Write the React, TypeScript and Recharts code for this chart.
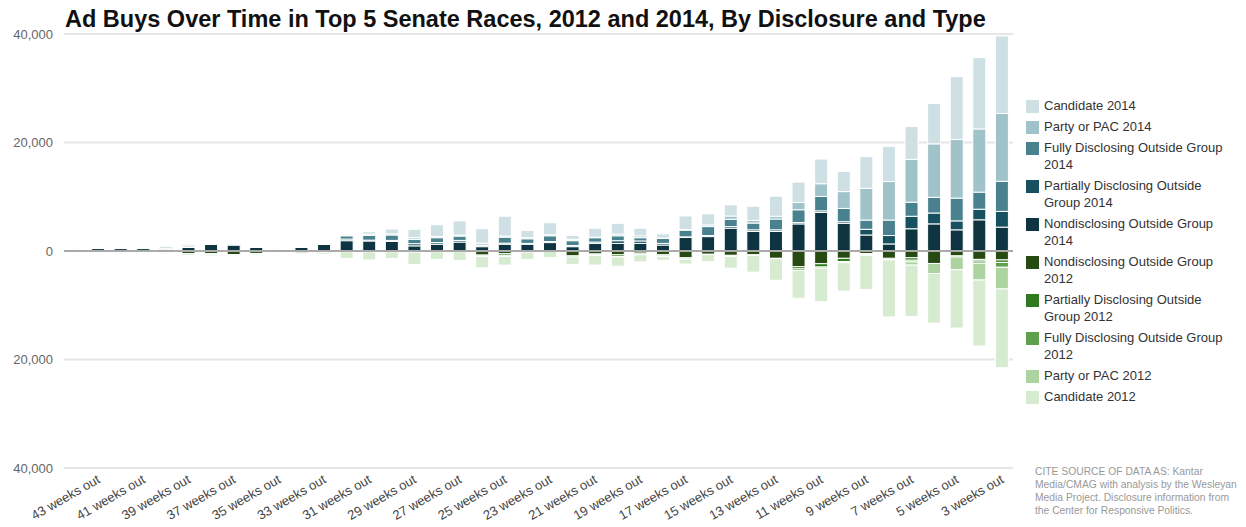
import React from 'react';
import { BarChart, Bar, XAxis, YAxis, CartesianGrid, ReferenceLine } from 'recharts';

const weekLabels = [
  '44 weeks out', '43 weeks out', '42 weeks out', '41 weeks out', '40 weeks out', '39 weeks out',
  '38 weeks out', '37 weeks out', '36 weeks out', '35 weeks out', '34 weeks out', '33 weeks out',
  '32 weeks out', '31 weeks out', '30 weeks out', '29 weeks out', '28 weeks out', '27 weeks out',
  '26 weeks out', '25 weeks out', '24 weeks out', '23 weeks out', '22 weeks out', '21 weeks out',
  '20 weeks out', '19 weeks out', '18 weeks out', '17 weeks out', '16 weeks out', '15 weeks out',
  '14 weeks out', '13 weeks out', '12 weeks out', '11 weeks out', '10 weeks out', '9 weeks out',
  '8 weeks out', '7 weeks out', '6 weeks out', '5 weeks out', '4 weeks out', '3 weeks out',
];

// 2014 (plotted above zero)
const nondisclosing2014 = [200, 450, 450, 450, 300, 650, 1200, 1100, 650, 150, 650, 1200, 1900, 1850, 1750, 950, 1250, 1650, 800, 1250, 1250, 1550, 800, 1400, 1400, 1400, 1100, 2500, 2650, 4200, 3600, 3600, 5000, 7100, 5100, 2950, 1300, 4100, 5000, 3900, 5750, 4400];
const partially2014 = [100, 50, 50, 50, 150, 100, 100, 50, 50, 50, 50, 50, 300, 150, 200, 400, 300, 300, 200, 200, 150, 200, 200, 250, 500, 450, 300, 100, 200, 300, 300, 300, 250, 300, 300, 1050, 1550, 2300, 2000, 1650, 1950, 2900];
const fully2014 = [0, 0, 0, 0, 300, 200, 0, 0, 0, 0, 0, 0, 600, 900, 1000, 800, 900, 800, 300, 1100, 850, 1050, 900, 800, 900, 600, 900, 1250, 1650, 1350, 1250, 2000, 2350, 2650, 2450, 1700, 2850, 2600, 2900, 4200, 3150, 5550];
const partyPac2014 = [0, 0, 0, 0, 50, 0, 0, 0, 0, 0, 0, 0, 100, 200, 200, 300, 200, 200, 150, 200, 200, 200, 250, 100, 300, 350, 100, 100, 300, 600, 500, 500, 1350, 2350, 3100, 5850, 7100, 7900, 9850, 10800, 11650, 12500];
const candidate2014 = [0, 0, 0, 0, 200, 300, 0, 0, 0, 0, 0, 100, 200, 450, 900, 1550, 2200, 2600, 2650, 3650, 1350, 2200, 700, 1650, 2000, 1400, 750, 2500, 2050, 2050, 2600, 3700, 3750, 4550, 3700, 5850, 6500, 6050, 7450, 11600, 13150, 14300];

// 2012 (plotted below zero)
const nondisclosing2012 = [0, 0, 0, 0, 0, -500, -500, -650, -450, -50, -350, -300, -150, -150, -150, -200, -150, -150, -750, -500, -200, -100, -900, -550, -700, -400, -700, -1250, -600, -800, -700, -1350, -2900, -2350, -1350, -500, -1350, -1250, -2300, -900, -1550, -1650];
const partially2012 = [0, 0, 0, 0, 0, 0, -100, 0, 0, 0, 0, 0, 0, 0, 0, 0, 0, 0, -150, -300, 0, 0, -200, -150, -300, -200, -200, -200, -100, -150, -100, -100, -400, -600, -600, -100, -200, -450, 0, -200, -300, -450];
const fully2012 = [0, 0, 0, 0, 0, 0, 0, 0, 0, 0, 0, 0, 0, 0, 0, 0, 0, 0, -100, -200, 0, 0, 0, -100, -100, -100, -150, -100, 0, -50, 0, 0, -300, -200, -200, -100, -100, -300, 0, 0, -400, -900];
const partyPac2012 = [0, 0, 0, 0, 0, 0, 0, 0, 0, 0, 0, 0, 0, 0, 0, 0, 0, 0, 0, 0, 0, 0, 0, 0, 0, 0, 0, 0, 0, 0, 0, 0, 0, 0, 0, -100, 0, -600, -1850, -2350, -3100, -4000];
const candidate2012 = [0, 0, 0, 0, 0, -300, -300, -100, -50, 0, -200, -350, -1200, -1500, -1200, -2300, -1400, -1600, -2100, -1600, -1350, -1100, -1400, -1800, -1700, -1300, -650, -850, -1250, -2150, -3100, -3950, -5100, -6200, -5250, -6300, -10500, -9500, -9150, -10750, -12150, -14500];

const yTicks = [-40000, -20000, 0, 20000, 40000];

const titleText = 'Ad Buys Over Time in Top 5 Senate Races, 2012 and 2014, By Disclosure and Type';
const sourceText = 'CITE SOURCE OF DATA AS: Kantar Media/CMAG with analysis by the Wesleyan Media Project. Disclosure information from the Center for Responsive Politics.';

// stacking order (bottom/near-zero first)
const series = [
  { key: 'nd14', name: 'Nondisclosing Outside Group 2014', color: '#0d3440', values: nondisclosing2014 },
  { key: 'pd14', name: 'Partially Disclosing Outside Group 2014', color: '#17505f', values: partially2014 },
  { key: 'fd14', name: 'Fully Disclosing Outside Group 2014', color: '#4a818f', values: fully2014 },
  { key: 'pp14', name: 'Party or PAC 2014', color: '#9fc3c8', values: partyPac2014 },
  { key: 'c14', name: 'Candidate 2014', color: '#cfe0e5', values: candidate2014 },
  { key: 'nd12', name: 'Nondisclosing Outside Group 2012', color: '#264a12', values: nondisclosing2012 },
  { key: 'pd12', name: 'Partially Disclosing Outside Group 2012', color: '#2f7a1e', values: partially2012 },
  { key: 'fd12', name: 'Fully Disclosing Outside Group 2012', color: '#5ea04c', values: fully2012 },
  { key: 'pp12', name: 'Party or PAC 2012', color: '#add4a0', values: partyPac2012 },
  { key: 'c12', name: 'Candidate 2012', color: '#d6ebd0', values: candidate2012 },
];

const legendOrder = ['c14', 'pp14', 'fd14', 'pd14', 'nd14', 'nd12', 'pd12', 'fd12', 'pp12', 'c12'];

const data = weekLabels.map((week, i) => {
  const row: Record<string, any> = { week };
  series.forEach((s) => { row[s.key] = s.values[i]; });
  return row;
});

const FONT = '"Liberation Sans", Arial, Helvetica, sans-serif';

const WeekTick = (props: any) => {
  const { x, y, payload } = props;
  const i = props.index ?? payload?.index ?? 0;
  if (i % 2 === 0) return <g />;
  const tx = x + 3;
  const ty = y + 14;
  return (
    <text x={tx} y={ty} textAnchor="end" transform={`rotate(-30, ${tx}, ${ty})`} fill="#444" fontSize={13} fontFamily={FONT}>
      {payload.value}
    </text>
  );
};

const LegendBlock = () => (
  <div style={{ position: 'absolute', left: 1026, top: 97, width: 215, fontFamily: FONT, fontSize: 13, color: '#333' }}>
    {legendOrder.map((k) => {
      const s = series.find((x) => x.key === k)!;
      return (
        <div key={k} style={{ display: 'flex', alignItems: 'flex-start', marginBottom: 4 }}>
          <div style={{ width: 13, height: 13, background: s.color, marginTop: 3, marginRight: 5, flex: 'none' }} />
          <div style={{ width: 190, lineHeight: '17px' }}>{s.name}</div>
        </div>
      );
    })}
  </div>
);

export default function App() {
  return (
    <div style={{ position: 'absolute', left: 0, top: 0, width: 1246, height: 527, background: '#fff', overflow: 'hidden' }}>
      <div style={{ position: 'absolute', left: 65, top: 7, fontFamily: FONT, fontWeight: 'bold', fontSize: 23.5, lineHeight: '24px', color: '#111', whiteSpace: 'nowrap', zIndex: 2 }}>
        {titleText}
      </div>
      <BarChart
        width={1246}
        height={527}
        data={data}
        stackOffset="sign"
        barSize={13}
        margin={{ top: 34, right: 233, bottom: 0, left: 0 }}
      >
        <CartesianGrid vertical={false} stroke="#e6e6e6" strokeWidth={2} />
        <YAxis
          type="number"
          domain={[-40000, 40000]}
          ticks={yTicks}
          width={64}
          axisLine={false}
          tickLine={false}
          tickSize={0}
          tickMargin={11}
          tickFormatter={(v: number) => Math.abs(v).toLocaleString('en-US')}
          tick={{ fill: '#666', fontSize: 13, fontFamily: FONT }}
        />
        <XAxis
          dataKey="week"
          interval={0}
          height={59}
          axisLine={false}
          tickLine={false}
          tickSize={0}
          tickMargin={0}
          tick={<WeekTick />}
        />
        <ReferenceLine y={0} stroke="#aaa" strokeWidth={2} />
        {series.map((s) => (
          <Bar
            key={s.key}
            dataKey={s.key}
            name={s.name}
            stackId="a"
            fill={s.color}
            stroke="#ffffff"
            strokeWidth={1}
            isAnimationActive={false}
          />
        ))}
      </BarChart>
      <LegendBlock />
      <div style={{ position: 'absolute', left: 1035, top: 465, width: 206, fontFamily: FONT, fontSize: 10.3, lineHeight: '13px', color: '#999' }}>
        {sourceText}
      </div>
    </div>
  );
}
